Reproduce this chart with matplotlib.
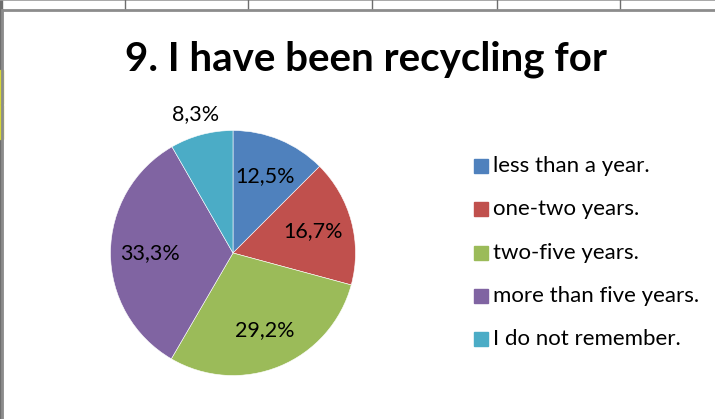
import numpy as np
import matplotlib.pyplot as plt
from matplotlib.patches import Rectangle
from matplotlib.lines import Line2D

# data
Labels = ['less than a year.', 'one-two years.', 'two-five years.',
          'more than five years.', 'I do not remember.']
Shares = [12.5, 16.7, 29.2, 33.3, 8.3]
PctText = ['12,5%', '16,7%', '29,2%', '33,3%', '8,3%']
Title = '9. I have been recycling for'

Cols = ['#4F81BD', '#C0504D', '#9BBB59', '#8064A2', '#4BACC6']

W, H = 715, 419
fig = plt.figure(figsize=(W/100, H/100), dpi=100)
plt.rcParams['font.family'] = ['Lato', 'DejaVu Sans']

def px(x, y):
    # pixel (from top-left) -> figure fraction
    return x/W, 1 - y/H

# spreadsheet bits around the chart
fig.add_artist(Line2D([0, 1], [1 - 0.5/H]*2, color='#9a9a9a', lw=1.2,
                      transform=fig.transFigure))
for xc in [125, 248, 372, 497, 620]:
    fig.add_artist(Line2D([xc/W]*2, [1 - 0/H, 1 - 9/H], color='#6e6e6e',
                          lw=1.0, transform=fig.transFigure))
fig.add_artist(Line2D([3/W, 1], [1 - 10/H]*2, color='#8c8c8c', lw=2.0,
                      transform=fig.transFigure))
fig.add_artist(Line2D([2/W]*2, [0, 1 - 10/H], color='#8c8c8c', lw=2.0,
                      transform=fig.transFigure))
fig.add_artist(Rectangle((0, 0), 1.5/W, 1, color='#6e6e6e',
                         transform=fig.transFigure))
for y0, y1 in [(70, 104), (105, 139)]:
    fig.add_artist(Rectangle((0, 1 - y1/H), 2.5/W, (y1 - y0)/H,
                             color='#d7d734', transform=fig.transFigure))

# title
fig.text(366/W, 1 - 59/H, Title, ha='center', va='center',
         fontsize=29, fontweight='bold', color='black')

# pie
R = 122.5
L = 1.45
size = 2*L*R
ax = fig.add_axes([(233 - size/2)/W, (419 - 253 - size/2)/H, size/W, size/H])
wedges, _ = ax.pie(Shares, colors=Cols, startangle=90, counterclock=False,
                   radius=1.0, wedgeprops=dict(edgecolor='white', linewidth=0.4))
ax.set_xlim(-L, L)
ax.set_ylim(-L, L)
ax.set_aspect('equal')
ax.axis('off')

cum = np.cumsum([0] + Shares[:-1])
for k, (s, c0) in enumerate(zip(Shares, cum)):
    mid = np.deg2rad(90 - 3.6*(c0 + s/2))
    r = 0.68 if s > 10 else 1.17
    ax.text(r*np.cos(mid), r*np.sin(mid), PctText[k], ha='center',
            va='center', fontsize=15.5, color='black')

# legend
for k, lbl in enumerate(Labels):
    yc = 166 + k*43.3
    fig.add_artist(Rectangle(px(474, yc + 7), 14/W, 14/H, color=Cols[k],
                             transform=fig.transFigure))
    fig.text(*px(493, yc), lbl, ha='left', va='center', fontsize=16,
             color='black')

fig.savefig('out.png', dpi=100)
